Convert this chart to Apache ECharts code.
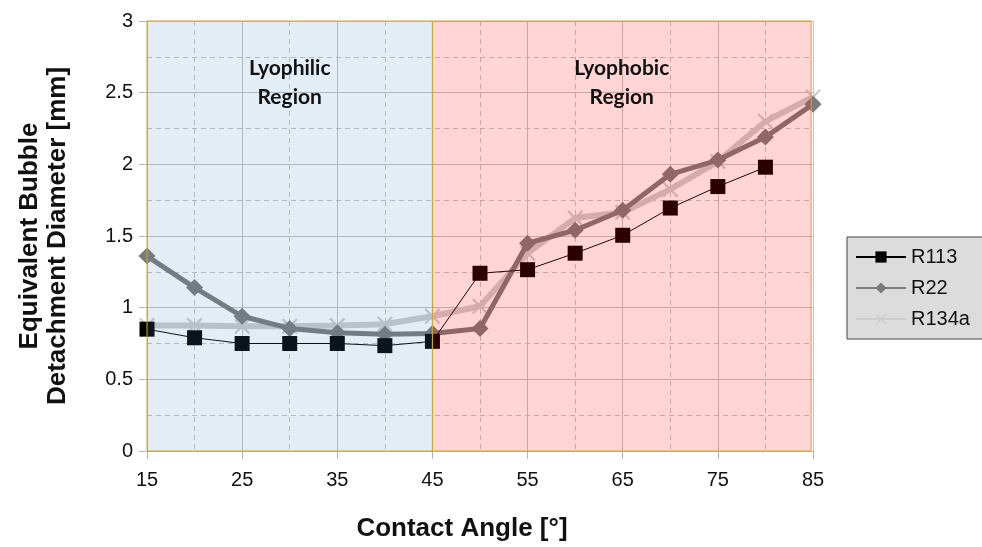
<!DOCTYPE html>
<html><head><meta charset="utf-8">
<script src="https://cdn.jsdelivr.net/npm/echarts@6/dist/echarts.min.js"></script>
<style>html,body{margin:0;padding:0;background:#fff}#c{width:982px;height:547px}</style>
</head><body><div id="c"></div>
<script>
// Contact angle categories (deg)
const angles = [15, 20, 25, 30, 35, 40, 45, 50, 55, 60, 65, 70, 75, 80, 85];
const xTickLabels = ['15', '20', '25', '30', '35', '40', '45', '50', '55', '60', '65', '70', '75', '80', '85'];
// Equivalent bubble detachment diameter [mm]
const r113 = [0.85, 0.79, 0.75, 0.75, 0.75, 0.735, 0.765, 1.24, 1.265, 1.38, 1.505, 1.695, 1.845, 1.98, null];
const r22 = [1.36, 1.14, 0.94, 0.855, 0.825, 0.815, 0.82, 0.855, 1.45, 1.54, 1.68, 1.93, 2.03, 2.19, 2.42];
const r134a = [0.875, 0.875, 0.87, 0.87, 0.875, 0.885, 0.94, 1.01, 1.38, 1.625, 1.665, 1.825, 2.02, 2.30, 2.47];
const seriesNames = ['R113', 'R22', 'R134a'];
// Regions: label, from angle, to angle
const regionLabels = ['Lyophilic\nRegion', 'Lyophobic\nRegion'];
const regionFrom = [15, 45];
const regionTo = [45, 84.8];

const pairs = vals => angles.map((a, i) => [a, vals[i]]).filter(p => p[1] !== null);
const XSYM = 'path://M0,1L1,0L5,4L9,0L10,1L6,5L10,9L9,10L5,6L1,10L0,9L4,5Z';
const FONT = 'Liberation Sans, Arial, sans-serif';
const regionColors = ['rgba(70,135,190,0.15)', 'rgba(255,0,0,0.165)'];

const chart = echarts.init(document.getElementById('c'), null, {renderer: 'canvas'});
chart.setOption({
  animation: false,
  backgroundColor: '#fff',
  grid: {left: 147, right: 169, top: 21, bottom: 95},
  legend: {
    data: seriesNames,
    orient: 'vertical',
    left: 847, top: 237,
    backgroundColor: '#dcdcdc',
    borderColor: '#444', borderWidth: 1, borderRadius: 0,
    padding: [10, 40, 10, 8],
    itemGap: 11,
    itemWidth: 50, itemHeight: 14,
    textStyle: {fontSize: 20, color: '#111', fontFamily: FONT}
  },
  xAxis: [{
    type: 'value', min: 15, max: 85, interval: 5,
    axisLabel: {show: false}, axisTick: {show: false},
    axisLine: {show: true, lineStyle: {color: '#b3b3b3'}},
    splitLine: {show: true, lineStyle: {color: '#c4c4c4', type: [5, 4]}}
  }, {
    type: 'category', data: xTickLabels, boundaryGap: false, position: 'bottom',
    axisLine: {show: false},
    axisTick: {show: true, interval: 1, length: 8, lineStyle: {color: '#b3b3b3'}},
    axisLabel: {interval: 1, margin: 19, fontSize: 20, color: '#111', fontFamily: FONT},
    splitLine: {show: true, interval: 1, lineStyle: {color: '#c4c4c4', width: 1}},
    name: 'Contact Angle [°]', nameLocation: 'middle', nameGap: 65,
    nameTextStyle: {fontSize: 26, fontWeight: 'bold', color: '#111', fontFamily: FONT, padding: [0, 36, 0, 0]}
  }],
  yAxis: {
    type: 'value', min: 0, max: 3, interval: 0.5,
    axisLine: {show: true, lineStyle: {color: '#b3b3b3'}},
    axisTick: {show: true, length: 8, lineStyle: {color: '#b3b3b3'}},
    axisLabel: {fontSize: 20, color: '#111', margin: 14, fontFamily: FONT},
    splitLine: {show: true, lineStyle: {color: '#c4c4c4', width: 1}},
    minorTick: {show: false, splitNumber: 2},
    minorSplitLine: {show: true, lineStyle: {color: '#c4c4c4', type: [5, 4]}},
    name: 'Equivalent Bubble\nDetachment Diameter [mm]', nameLocation: 'middle', nameGap: 75,
    nameRotate: 90,
    nameTextStyle: {fontSize: 26, fontWeight: 'bold', color: '#111', fontFamily: FONT, lineHeight: 28}
  },
  series: [{
    name: 'R113', type: 'line', data: pairs(r113), z: 4,
    symbol: 'rect', symbolSize: 15,
    itemStyle: {color: '#000'}, lineStyle: {color: '#000', width: 1}
  }, {
    name: 'R22', type: 'line', data: pairs(r22), z: 3,
    symbol: 'diamond', symbolSize: 17,
    itemStyle: {color: '#7b7b7b'}, lineStyle: {color: '#7b7b7b', width: 5}
  }, {
    name: 'R134a', type: 'line', data: pairs(r134a), z: 2,
    symbol: XSYM, symbolSize: 16,
    itemStyle: {color: '#cdcdcd'}, lineStyle: {color: '#cdcdcd', width: 6}
  }, {
    name: 'regions', type: 'line', data: [], z: 10, silent: true,
    markArea: {
      silent: true, z: 10,
      label: {
        show: true, position: 'insideTop', distance: 33,
        fontSize: 21, fontWeight: 'bold', color: '#111', fontFamily: 'Lato', lineHeight: 29
      },
      data: regionLabels.map((lab, i) => [{
        name: lab, xAxis: regionFrom[i],
        itemStyle: {color: regionColors[i], borderColor: '#d8a523', borderWidth: 1}
      }, {xAxis: regionTo[i]}])
    }
  }]
});
</script></body></html>
